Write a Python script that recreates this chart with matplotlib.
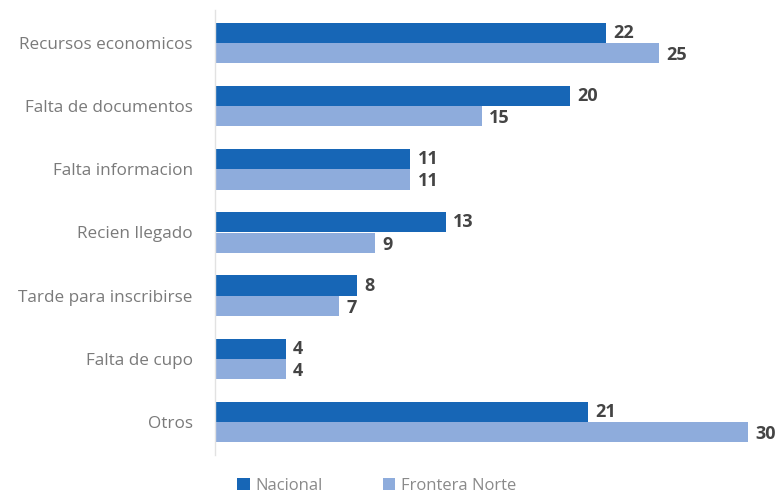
import matplotlib
matplotlib.use("Agg")
import matplotlib.pyplot as plt
import numpy as np

categories = ["Recursos economicos", "Falta de documentos", "Falta informacion",
              "Recien llegado", "Tarde para inscribirse", "Falta de cupo", "Otros"]
nacional = [22, 20, 11, 13, 8, 4, 21]
frontera_norte = [25, 15, 11, 9, 7, 4, 30]
series_names = ["Nacional", "Frontera Norte"]

c_nac = "#1766b6"
c_fn = "#8eacdc"

plt.rcParams["font.family"] = ["Open Sans", "DejaVu Sans"]

fig = plt.figure(figsize=(7.79, 4.95), dpi=100)
W, H = 779, 495
ax = fig.add_axes([215 / W, 1 - 455 / H, (748 - 215) / W, (455 - 10) / H])

y = np.arange(len(categories))
h = 0.32
ax.barh(y - h / 2, nacional, height=h, color=c_nac, label=series_names[0])
ax.barh(y + h / 2, frontera_norte, height=h, color=c_fn, label=series_names[1])

for yi, v in zip(y, nacional):
    ax.text(v + 0.4, yi - h / 2, str(v), va="center", ha="left",
            fontsize=13, fontweight="bold", color="#444444", clip_on=False)
for yi, v in zip(y, frontera_norte):
    ax.text(v + 0.4, yi + h / 2 + 0.03, str(v), va="center", ha="left",
            fontsize=13, fontweight="bold", color="#444444", clip_on=False)

ax.set_xlim(0, 30)
ax.set_ylim(6.52, -0.52)
ax.set_yticks(y)
ax.set_yticklabels(categories, fontsize=12.3, color="#7a7a7a")
ax.tick_params(axis="y", length=0, pad=16)
ax.set_xticks([])
for s in ["top", "right", "bottom"]:
    ax.spines[s].set_visible(False)
ax.spines["left"].set_color("#e2e2e2")
ax.spines["left"].set_linewidth(1)

leg = fig.legend(loc="center left", bbox_to_anchor=(222 / W, 1 - 486 / H), ncol=2,
                 frameon=False, fontsize=12, handlelength=0.75, handleheight=0.75,
                 handletextpad=0.35, columnspacing=3.6, labelcolor="#8a8a8a")

fig.savefig("out.png", dpi=100, facecolor="white")
